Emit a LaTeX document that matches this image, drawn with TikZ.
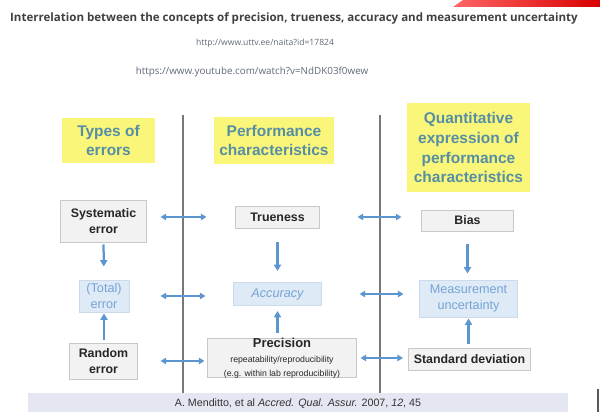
\documentclass[tikz,border=0pt]{standalone}
\usepackage{fontspec}
\setmainfont{Liberation Sans}
\newfontfamily\titlefont{Open Sans}
\usepackage{tikz}
\usetikzlibrary{arrows.meta}
\definecolor{hdrfill}{RGB}{250,246,122}
\definecolor{hdrtxt}{RGB}{86,142,164}
\definecolor{boxgray}{RGB}{242,242,242}
\definecolor{boxline}{RGB}{200,200,200}
\definecolor{boxblue}{RGB}{222,234,246}
\definecolor{boxblueline}{RGB}{204,218,236}
\definecolor{bluetxt}{RGB}{118,164,214}
\definecolor{arrblue}{RGB}{91,150,208}
\definecolor{sepgray}{RGB}{120,120,120}
\definecolor{footfill}{RGB}{228,230,242}
\definecolor{urlgray}{RGB}{95,105,120}

\begin{document}
\begin{tikzpicture}[x=0.025cm,y=-0.025cm,
	hdr/.style={fill=hdrfill,text=hdrtxt,align=center,inner sep=0pt,
		font=\fontsize{11}{13.5}\selectfont\bfseries},
	gbox/.style={fill=boxgray,draw=boxline,line width=0.7pt,align=center,
		inner sep=0pt,text=black!85,font=\fontsize{8.8}{11.4}\selectfont\bfseries},
	bbox/.style={fill=boxblue,draw=boxblueline,line width=0.7pt,align=center,
		inner sep=0pt,text=bluetxt,font=\fontsize{9}{11.4}\selectfont},
	link/.style={draw=arrblue,line width=1.3pt,
		{Triangle[length=4pt,width=4.5pt]}-{Triangle[length=4pt,width=4.5pt]}},
	feed/.style={draw=arrblue,line width=1.6pt,-{Triangle[length=4.5pt,width=5pt]}}]
		\useasboundingbox (0,0) rectangle (600,412);
		% top banner and texts
		\shade[left color=red!60,right color=red!85!black] (463,0) -- (600,0) -- (600,7) -- (453,7) -- cycle;
		\node[text=black!75,font=\titlefont\fontsize{8.2}{10}\selectfont\bfseries] (title) at (294,18)
			{Interrelation between the concepts of precision, trueness, accuracy and measurement uncertainty};
		\node[text=urlgray,font=\titlefont\fontsize{6.1}{8}\selectfont] (url1) at (265,43) {http://www.uttv.ee/naita?id=17824};
		\node[text=urlgray,font=\titlefont\fontsize{7}{9}\selectfont] (url2) at (252,72) {https://www.youtube.com/watch?v=NdDK03f0wew};
		% column separators
		\draw[sepgray,line width=1pt] (183,115) -- (183,393);
		\draw[sepgray,line width=1pt] (380,115) -- (380,393);
		% headers
		\node[hdr,minimum width=2.325cm,minimum height=1.125cm] (h1) at (108.5,140.5) {Types of\\errors};
		\node[hdr,minimum width=3cm,minimum height=1.175cm] (h2) at (274,140.5) {Performance\\characteristics};
		\node[hdr,minimum width=3.075cm,minimum height=2.225cm,
			font=\fontsize{11}{14.2}\selectfont\bfseries] (h3) at (468.5,147.5)
			{Quantitative\\expression of\\performance\\characteristics};
		% first row
		\node[gbox,minimum width=2.125cm,minimum height=1.025cm] (sys) at (103.5,221.5) {Systematic\\error};
		\node[gbox,minimum width=2.075cm,minimum height=0.55cm] (tru) at (277.5,217) {Trueness};
		\node[gbox,minimum width=2.275cm,minimum height=0.525cm] (bias) at (467.5,220.5) {Bias};
		% second row
		\node[bbox,minimum width=1.25cm,minimum height=0.8cm] (tot) at (104,296) {(Total)\\error};
		\node[bbox,minimum width=2.175cm,minimum height=0.575cm,font=\fontsize{9}{11}\selectfont\itshape] (acc) at (277.5,294) {Accuracy};
		\node[bbox,minimum width=2.425cm,minimum height=0.925cm] (unc) at (468.5,298.5) {Measurement\\uncertainty};
		% third row
		\node[gbox,minimum width=1.675cm,minimum height=0.9cm] (rnd) at (103.5,361) {Random\\error};
		\node[gbox,minimum width=3.7cm,minimum height=0.95cm] (prc) at (282,358)
			{{\fontsize{9.2}{10}\selectfont Precision}\\[-1pt]
			{\fontsize{6.2}{6.8}\selectfont\mdseries repeatability/reproducibility}\\[-1.5pt]
			{\fontsize{6.2}{6.8}\selectfont\mdseries (e.g. within lab reproducibility)}};
		\node[gbox,minimum width=3.05cm,minimum height=0.55cm] (sd) at (469.5,359) {Standard deviation};
		% links
		\draw[link,shorten <=0.35cm,shorten >=0.725cm] (tru.west -| sys.east) -- (tru.west);
		\draw[link,shorten <=0.95cm,shorten >=0.5cm] (tru.east) -- (tru.east -| bias.west);
		\draw[link,shorten <=0.775cm,shorten >=0.7cm] (tot.east) -- (tot.east -| acc.west);
		\draw[link,shorten <=0.95cm,shorten >=0.4cm] (acc.east) -- (acc.east -| unc.west);
		\draw[link,shorten <=0.575cm,shorten >=0.075cm] (rnd.east) -- (rnd.east -| prc.west);
		\draw[link,shorten <=0.1cm,shorten >=0.125cm] (prc.east) -- (prc.east -| sd.west);
		\draw[feed,shorten <=0.05cm,shorten >=0.325cm] (sys.south) -- (tot.north);
		\draw[feed,shorten <=0.35cm,shorten >=0.275cm] (tru.south) -- (acc.north);
		\draw[feed,shorten <=0.325cm,shorten >=0.15cm] (bias.south) -- (bias.south |- unc.north);
		\draw[feed,shorten <=0.075cm,shorten >=0.025cm] (rnd.north -| tot.south) -- (tot.south);
		\draw[feed,shorten <=0.125cm,shorten >=0.125cm] (prc.north -| acc.south) -- (acc.south);
		\draw[feed,shorten <=0.1cm,shorten >=0.025cm] (sd.north -| unc.south) -- (unc.south);
		% reference line
		\fill[footfill] (28,393) rectangle (568,412);
		\node[text=black!80,font=\fontsize{7.6}{8}\selectfont] (ref) at (298,404)
			{A. Menditto, et al \textit{Accred. Qual. Assur.} 2007, \textit{12}, 45};
		\fill[black!65] (597,389) rectangle (599,412);
\end{tikzpicture}
\end{document}
